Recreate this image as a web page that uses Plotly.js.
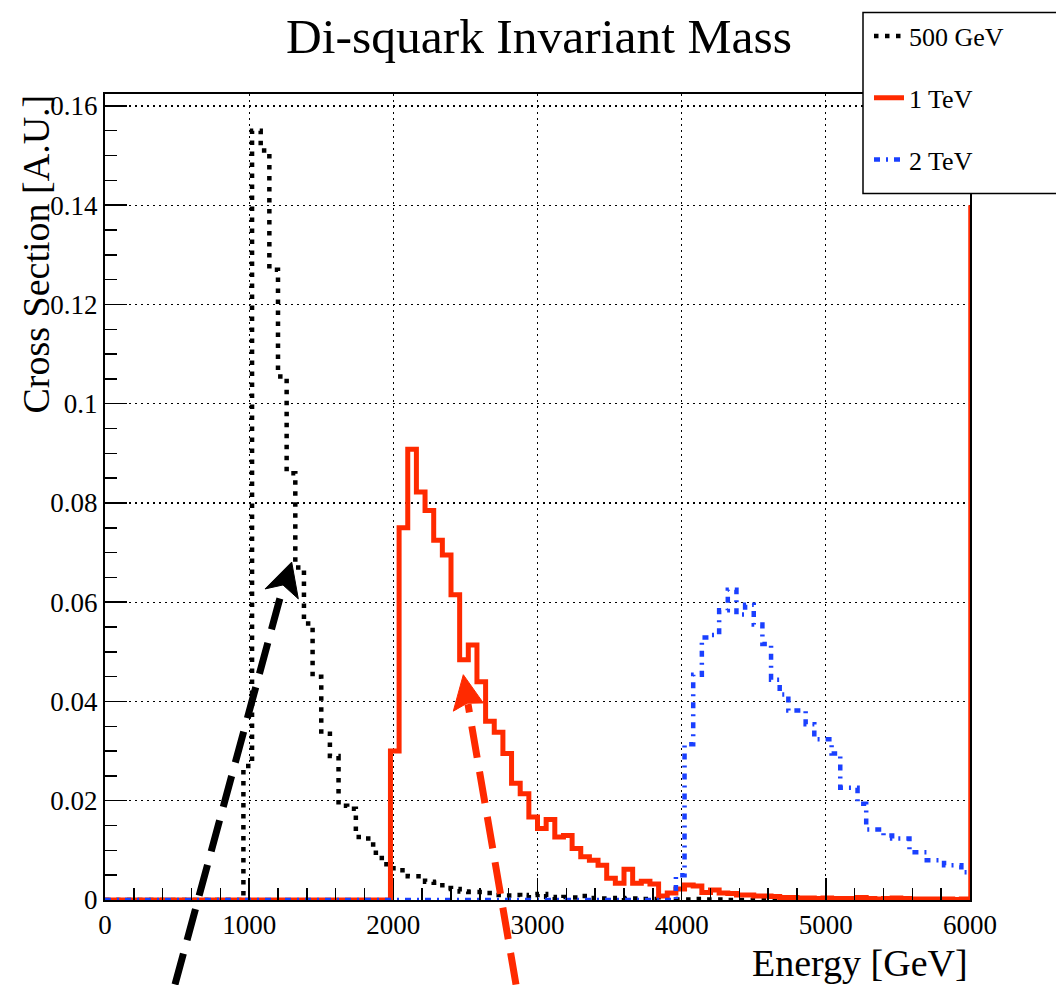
<!DOCTYPE html>
<html>
<head>
<meta charset="utf-8">
<script src="https://cdn.plot.ly/plotly-3.0.1.min.js"></script>
<style>html,body{margin:0;padding:0;background:#fff;}#chart{width:1056px;height:985px;}</style>
</head>
<body>
<div id="chart"></div>
<script>
// ---- data ----
const binWidth = 60;           // GeV, 100 bins from 0 to 6000
const nBins = 100;

const series500GeV = [
  0,0,0,0,0,0,0,0,0,0, 0,0,0,0,0,0,
  0.027,0.155,0.151,0.127,0.1055,0.086,0.067,0.0557,0.045,0.0335,
  0.029,0.019,0.0184,0.0127,0.0124,0.0095,0.0072,0.0064,0.006,0.0048,
  0.0048,0.0037,0.0035,0.0024,0.0022,0.0017,0.0016,0.0016,0.0014,0.001,
  0.0009,0.001,0.0006,0.001,0.0012,0.0006,0.0004,0.0006,0.0005,0.0008,
  0.0004,0.0003,0.0003,0.0004,0.0002,0.0003,0.0002,0.0002,0.0001,0.0002,
  0.0001,0.0001,0.0002,0.0001,0.0001,0.0001,
  0,0,0,0,0,0,0,0,0,0, 0,0,0,0,0,0,0,0,0,0, 0,0,0,0,0,0,0,0
];

const series1TeV = [
  0,0,0,0,0,0,0,0,0,0, 0,0,0,0,0,0,0,0,0,0, 0,0,0,0,0,0,0,0,0,0, 0,0,0,
  0.030,0.075,0.0908,0.0822,0.0785,0.0725,0.0695,0.0615,0.0484,0.0514,
  0.044,0.036,0.0338,0.0295,0.0235,0.0214,0.0167,0.0144,0.0162,0.0127,
  0.013,0.0104,0.0087,0.008,0.007,0.0044,0.0034,0.0062,0.0034,0.0038,
  0.0032,0.0008,0.0014,0.0022,0.003,0.0028,0.0015,0.002,0.0014,0.0013,
  0.001,0.001,0.0008,0.0008,0.0007,0.0005,0.0005,0.0004,0.0004,0.0003,
  0.0004,0.0003,0.0003,0.0003,0.0005,0.0003,0.0002,0.0003,0.0004,0.0003,
  0.0002,0.0002,0.0002,0.0002,0.0002,0.0001,0.0002
];

const series2TeV = [
  0,0,0,0,0,0,0,0,0,0, 0,0,0,0,0,0,0,0,0,0, 0,0,0,0,0,0,0,0,0,0,
  0,0,0,0,0,0,0,0,0,0, 0,0,0,0,0,0,0,0,0,0, 0,0,0,0,0,0,0,0,0,0,
  0,0,0,0,0,0,
  0.005,0.0314,0.0454,0.0529,0.0534,0.0584,0.0625,0.0575,0.0595,0.0555,
  0.0516,0.0444,0.0414,0.0382,0.0382,0.0354,0.0324,0.0324,0.0295,0.0226,
  0.0226,0.0194,0.0142,0.0142,0.013,0.0124,0.0124,0.0096,0.0096,0.008,
  0.008,0.007,0.007,0.0056
];

const seriesNames = ['500 GeV', '1 TeV', '2 TeV'];
const xTickVals = [0, 1000, 2000, 3000, 4000, 5000, 6000];
const xTickText = ['0', '1000', '2000', '3000', '4000', '5000', '6000'];
const yTickVals = [0, 0.02, 0.04, 0.06, 0.08, 0.1, 0.12, 0.14, 0.16];
const yTickText = ['0', '0.02', '0.04', '0.06', '0.08', '0.1', '0.12', '0.14', '0.16'];

// ---- build step histograms ----
const binEdges = Array.from({length: nBins + 1}, (_, i) => i * binWidth);
function stepY(vals) { return vals.concat([vals[vals.length - 1]]); }

const serif = '"Liberation Serif", "Times New Roman", Times, serif';
const redCol = '#ff2a00';
const blueCol = '#1a40ff';

const traces = [
  {x: binEdges, y: stepY(series500GeV), name: seriesNames[0], type: 'scatter', mode: 'lines',
   line: {shape: 'hv', color: '#000000', width: 4.5, dash: '4.5px,6.5px'}, legendgroup: 'a'},
  {x: binEdges, y: stepY(series1TeV), name: seriesNames[1], type: 'scatter', mode: 'lines',
   line: {shape: 'hv', color: redCol, width: 5}, legendgroup: 'b'},
  {x: binEdges, y: stepY(series2TeV), name: seriesNames[2], type: 'scatter', mode: 'lines',
   line: {shape: 'hv', color: blueCol, width: 4.5, dash: '6px,6px,2px,6px'}, legendgroup: 'c'}
];

// pixel -> paper helpers for decorations (plot area 105..970 x 89..900)
const L = 105, R = 970, T = 89, B = 900;
const px = v => (v - L) / (R - L);
const py = v => (B - v) / (B - T);

const gridDash = '2px,4px';
const layout = {
  width: 1056, height: 985,
  margin: {l: L, r: 1056 - R, t: T, b: 985 - B, pad: 0},
  paper_bgcolor: '#ffffff', plot_bgcolor: '#ffffff',
  font: {family: serif, color: '#000000'},
  showlegend: true,
  title: {text: 'Di-squark Invariant Mass', font: {family: serif, size: 49.5, color: '#000'},
          x: 539 / 1056, xanchor: 'center', xref: 'container', y: 1 - 36 / 985, yanchor: 'middle', yref: 'container'},
  xaxis: {
    range: [0, 6000], tickmode: 'array', tickvals: xTickVals, ticktext: xTickText,
    ticks: 'inside', ticklen: 22, tickwidth: 1.5, tickcolor: '#000',
    showline: true, linewidth: 2, linecolor: '#000', mirror: true,
    showgrid: true, gridcolor: '#000', gridwidth: 1.2, griddash: gridDash, zeroline: false,
    minor: {tickmode: 'linear', tick0: 0, dtick: 200, ticks: 'inside', ticklen: 12, tickwidth: 1.5, tickcolor: '#000', showgrid: false},
    tickfont: {family: serif, size: 27, color: '#000'}
  },
  yaxis: {
    range: [0, 0.1624], tickmode: 'array', tickvals: yTickVals, ticktext: yTickText,
    ticks: 'inside', ticklen: 22, tickwidth: 1.5, tickcolor: '#000',
    showline: true, linewidth: 2, linecolor: '#000', mirror: true,
    showgrid: true, gridcolor: '#000', gridwidth: 1.2, griddash: gridDash, zeroline: false,
    minor: {tickmode: 'linear', tick0: 0, dtick: 0.005, ticks: 'inside', ticklen: 12, tickwidth: 1.5, tickcolor: '#000', showgrid: false},
    tickfont: {family: serif, size: 27, color: '#000'}
  },
  legend: {
    x: px(869), xanchor: 'left', y: py(7), yanchor: 'top',
    bgcolor: 'rgba(0,0,0,0)', bordercolor: '#000', borderwidth: 0,
    font: {family: serif, size: 26, color: '#000'},
    tracegroupgap: 25, itemwidth: 30, traceorder: 'grouped'
  },
  annotations: [
    {text: 'Energy [GeV]', xref: 'paper', yref: 'paper', x: 1, xanchor: 'right', y: py(963), yanchor: 'middle',
     showarrow: false, font: {family: serif, size: 38, color: '#000'}},
    {text: 'Cross Section [A.U.]', xref: 'paper', yref: 'paper', x: px(36), xanchor: 'center', y: py(88), yanchor: 'top',
     textangle: -90, showarrow: false, font: {family: serif, size: 38, color: '#000'}}
  ],
  shapes: [
    // red edge of the 1 TeV histogram at the upper range
    {type: 'line', xref: 'x', yref: 'y', x0: 6000, x1: 6000, y0: 0, y1: 0.14, line: {color: redCol, width: 3.5}},
    // legend box (runs off the right edge of the page, as in the original)
    {type: 'rect', xref: 'paper', yref: 'paper', x0: px(863), x1: px(1064), y0: py(189), y1: py(7),
     fillcolor: '#ffffff', line: {color: '#000', width: 1.5}, layer: 'above'},
    // black dashed arrow
    {type: 'line', xref: 'paper', yref: 'paper', x0: px(175), y0: py(985), x1: px(283), y1: py(585),
     line: {color: '#000', width: 7, dash: '32px,14px'}},
    {type: 'path', xref: 'paper', yref: 'paper',
     path: `M ${px(291.7)} ${py(560)} L ${px(265)} ${py(587)} L ${px(283)} ${py(583)} L ${px(298.3)} ${py(597)} Z`,
     fillcolor: '#000', line: {color: '#000', width: 1}},
    // red dashed arrow
    {type: 'line', xref: 'paper', yref: 'paper', x0: px(516), y0: py(985), x1: px(468), y1: py(703),
     line: {color: redCol, width: 7, dash: '32px,14px'}},
    {type: 'path', xref: 'paper', yref: 'paper',
     path: `M ${px(463.3)} ${py(673.3)} L ${px(453.3)} ${py(710)} L ${px(467)} ${py(702)} L ${px(483.3)} ${py(701.7)} Z`,
     fillcolor: redCol, line: {color: redCol, width: 1}}
  ]
};

Plotly.newPlot('chart', traces, layout, {displayModeBar: false, staticPlot: true});
</script>
</body>
</html>
